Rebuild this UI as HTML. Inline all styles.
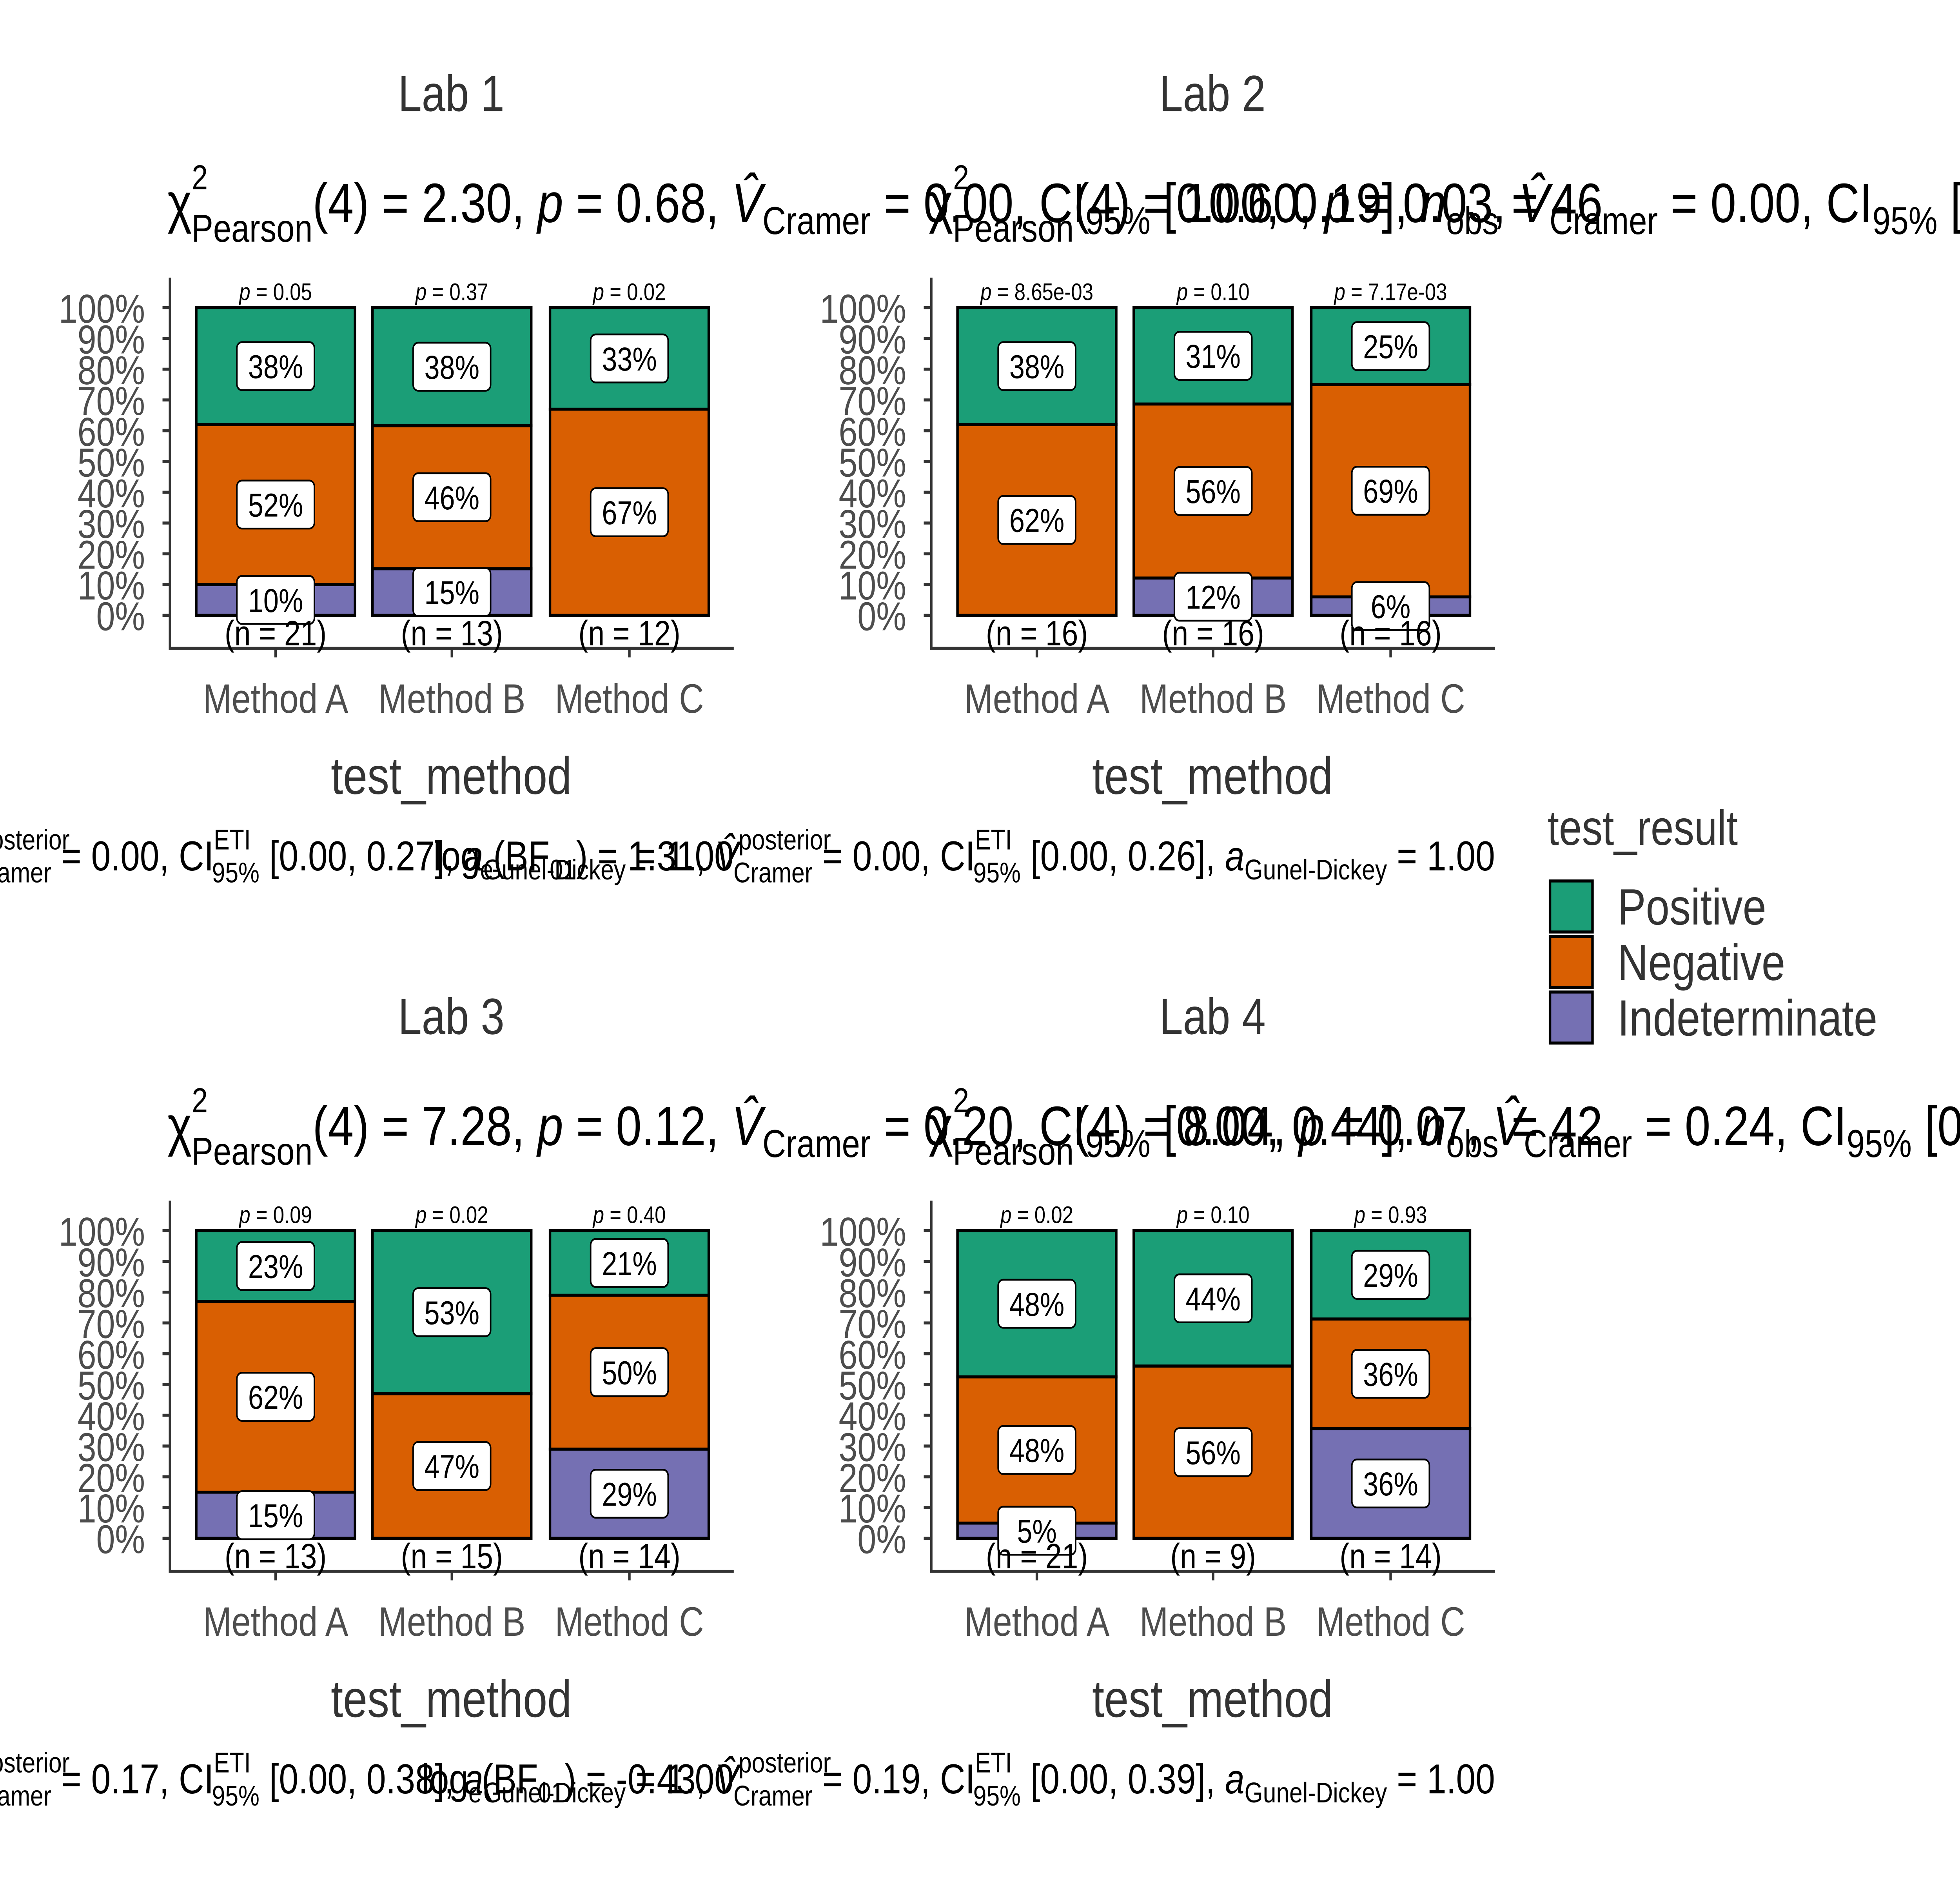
<!DOCTYPE html>
<html><head><meta charset="utf-8"><style>
html,body{margin:0;padding:0;background:#fff;overflow:hidden;width:100%;height:100%}
svg{display:block;position:absolute;left:0;top:0;width:100vw;height:100vh}
text{font-family:"Liberation Sans",Arial,sans-serif}
</style></head><body>
<svg id="chart" xmlns="http://www.w3.org/2000/svg" viewBox="0 0 1568 1254" preserveAspectRatio="none">
<rect width="1568" height="1254" fill="#fff"/>
<g id="root"></g>
</svg>
<script>
const labs = ["Lab 1","Lab 2","Lab 3","Lab 4"];
const methods = ["Method A","Method B","Method C"];
const positive = [[38,38,33],[38,31,25],[23,53,21],[48,44,29]];
const negative = [[52,46,67],[62,56,69],[62,47,50],[48,56,36]];
const indeterminate = [[10,15,0],[0,12,6],[15,0,29],[5,0,36]];
const nCounts = [[21,13,12],[16,16,16],[13,15,14],[21,9,14]];
const pLabels = [["0.05","0.37","0.02"],["8.65e-03","0.10","7.17e-03"],["0.09","0.02","0.40"],["0.02","0.10","0.93"]];
const yTicks = [0,10,20,30,40,50,60,70,80,90,100];
const chiStats = ["2.30","10.60","7.28","8.04"];
const chiP = ["0.68","0.03","0.12","0.07"];
const cramerV = ["0.00","0.00","0.20","0.24"];
const cramerCI = ["[0.00, 0.19]","[0.00, 0.30]","[0.00, 0.44]","[0.00, 0.41]"];
const nObs = ["46","48","42","44"];
const bfVals = ["-1.36","1.31","-0.48","-0.43"];
const postV = ["0.00","0.00","0.17","0.19"];
const postCI = ["[0.00, 0.27]","[0.00, 0.26]","[0.00, 0.38]","[0.00, 0.39]"];
const colors = {pos:"#1B9E77",neg:"#D95F02",ind:"#7570B3"};
const legendItems = [["Positive","#1B9E77"],["Negative","#D95F02"],["Indeterminate","#7570B3"]];

const NS="http://www.w3.org/2000/svg";
const root=document.getElementById('root');
function mk(tag,attrs,parent,txt){const e=document.createElementNS(NS,tag);for(const k in attrs)e.setAttribute(k,attrs[k]);if(txt!==undefined)e.textContent=txt;(parent||root).appendChild(e);return e;}

const offsets=[[0,0],[609,0],[0,615],[609,615]];
const barLeft=[157,298,440], barW=127;
labs.forEach((lab,li)=>{
  const [dx,dy]=offsets[li];
  const g=mk('g',{transform:`translate(${dx},${dy})`});
  
  
  const yS=v=>410-v*2.05;
  const t=mk('text',{x:361,y:74,'text-anchor':'middle','font-size':34,fill:'#333'},g,lab);
  
  
  const st=mk('text',{x:134,y:148,'font-size':37,fill:'#000'},g);
  
  
  st.innerHTML=`χ<tspan font-size="23" dy="-22">2</tspan><tspan font-size="26" dx="-13" dy="35">Pearson</tspan><tspan dy="-13">(4) = ${chiStats[li]}, </tspan><tspan font-style="italic">p</tspan> = ${chiP[li]}, <tspan font-style="italic">V̂</tspan><tspan font-size="26" dy="8">Cramer</tspan><tspan dy="-8"> = ${cramerV[li]}, CI</tspan><tspan font-size="26" dy="8">95%</tspan><tspan dy="-8"> ${cramerCI[li]}, <tspan font-style="italic">n</tspan></tspan><tspan font-size="26" dy="8">obs</tspan><tspan dy="-8"> = ${nObs[li]}</tspan>`;
  const ya=mk('line',{x1:136,y1:185,x2:136,y2:432,stroke:'#333','stroke-width':2},g);
  
  
  const xa=mk('line',{x1:135,y1:432,x2:587,y2:432,stroke:'#333','stroke-width':2},g);
  
  
  yTicks.forEach(v=>{
    mk('line',{x1:130,y1:yS(v),x2:136,y2:yS(v),stroke:'#333','stroke-width':2},g);
    const tl=mk('text',{x:116,y:yS(v)+10,'text-anchor':'end','font-size':27,fill:'#4d4d4d'},g,v+'%');
    
    
  });
  methods.forEach((m,mi)=>{
    const x=barLeft[mi], cx=x+barW/2;
    const vals=[indeterminate[li][mi],negative[li][mi],positive[li][mi]];
    const tot=vals.reduce((a,b)=>a+b,0);
    const cols=[colors.ind,colors.neg,colors.pos];
    const names=['indeterminate','negative','positive'];
    let cum=0; const centers=[];
    vals.forEach((v,k)=>{
      const s=v/tot*100;
      if(v>0){
        const r=mk('rect',{x:x,y:yS(cum+s),width:barW,height:s*2.05,fill:cols[k],stroke:'#000','stroke-width':2},g);
        
        
        centers.push([yS(cum+s/2),v]);
      }
      cum+=s;
    });
    centers.forEach(([cy,v])=>{
      const lb=mk('g',{},g);
      
      
      mk('rect',{x:cx-31,y:cy-16,width:62,height:32,rx:4,fill:'#fff',stroke:'#000','stroke-width':1.2},lb);
      mk('text',{x:cx,y:cy+8,'text-anchor':'middle','font-size':22,fill:'#000'},lb,v+'%');
    });
    const nl=mk('text',{x:cx,y:430,'text-anchor':'middle','font-size':23.5,fill:'#000'},g,`(n = ${nCounts[li][mi]})`);
    
    
    const pl=mk('text',{x:cx,y:200,'text-anchor':'middle','font-size':16,fill:'#000'},g);
    
    
    pl.innerHTML=`<tspan font-style="italic">p</tspan> = ${pLabels[li][mi]}`;
    mk('line',{x1:cx,y1:432,x2:cx,y2:438,stroke:'#333','stroke-width':2},g);
    const xl=mk('text',{x:cx,y:475,'text-anchor':'middle','font-size':27.5,fill:'#4d4d4d'},g,m);
    
    
  });
  const xt=mk('text',{x:361,y:529,'text-anchor':'middle','font-size':35,fill:'#333'},g,'test_method');
  
  
  const cap=mk('text',{x:1196-609,y:580,'text-anchor':'end','font-size':28,fill:'#000'},g);
  
  
  cap.innerHTML=`log<tspan font-size="19" dy="6">e</tspan><tspan dy="-6">(BF</tspan><tspan font-size="19" dy="6">01</tspan><tspan dy="-6">) = ${bfVals[li]}, </tspan><tspan font-style="italic">V̂</tspan><tspan font-size="19" dy="-14">posterior</tspan><tspan font-size="19" dx="-78" dy="22">Cramer</tspan><tspan dy="-8"> = ${postV[li]}, CI</tspan><tspan font-size="19" dy="-14">ETI</tspan><tspan font-size="19" dx="-31" dy="22">95%</tspan><tspan dy="-8"> ${postCI[li]}, </tspan><tspan font-style="italic">a</tspan><tspan font-size="19" dy="6">Gunel-Dickey</tspan><tspan dy="-6"> = 1.00</tspan>`;
});
const lg=mk('g',{});


const lt=mk('text',{x:1238,y:563,'font-size':33,fill:'#333'},lg,'test_result');


legendItems.forEach(([name,c],i)=>{
  const e=mk('g',{},lg);
  
  
  mk('rect',{x:1240,y:587+i*37,width:34,height:34,fill:c,stroke:'#000','stroke-width':2},e);
  mk('text',{x:1294,y:616+i*37,'font-size':34,fill:'#333'},e,name);
});
</script>
</body></html>
